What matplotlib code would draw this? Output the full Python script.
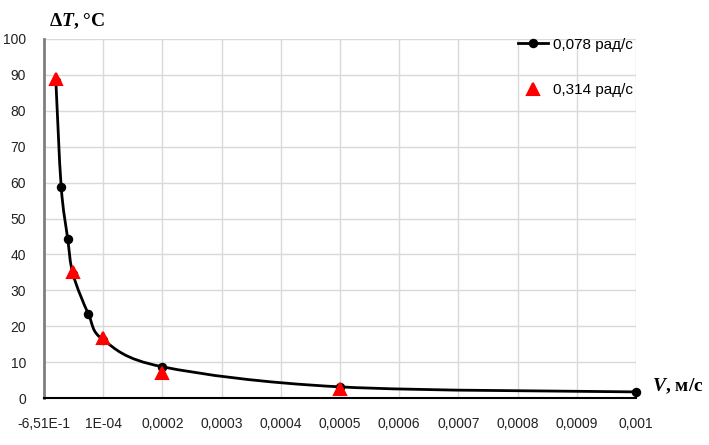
import numpy as np
import matplotlib
matplotlib.use('Agg')
import matplotlib.pyplot as plt
from matplotlib.path import Path
from matplotlib.patches import PathPatch
from matplotlib.lines import Line2D

# ---- data ----
v_black = [2.0e-5, 2.9e-5, 4.0e-5, 4.9e-5, 7.5e-5, 1.0e-4, 2.0e-4, 5.0e-4, 1.0e-3]
dt_black = [88.4, 58.9, 44.4, 34.5, 23.4, 16.2, 8.7, 3.1, 1.7]
v_red = [2.0e-5, 4.9e-5, 1.0e-4, 2.0e-4, 5.0e-4]
dt_red = [88.9, 35.0, 16.7, 7.1, 2.4]
series_labels = ["0,078 рад/с", "0,314 рад/с"]
x_ticks = [0, 0.0001, 0.0002, 0.0003, 0.0004, 0.0005, 0.0006, 0.0007, 0.0008, 0.0009, 0.001]
x_tick_labels = ["-6,51E-1", "1E-04", "0,0002", "0,0003", "0,0004", "0,0005",
                 "0,0006", "0,0007", "0,0008", "0,0009", "0,001"]
y_ticks = [0, 10, 20, 30, 40, 50, 60, 70, 80, 90, 100]
y_label = "$\\Delta T$, °C"
x_label = "$V$, м/с"

plt.rcParams['mathtext.fontset'] = 'custom'
plt.rcParams['mathtext.rm'] = 'Liberation Serif:bold'
plt.rcParams['mathtext.bf'] = 'Liberation Serif:bold'
plt.rcParams['mathtext.it'] = 'Liberation Serif:italic:bold'

W, H = 709, 445
fig = plt.figure(figsize=(W / 100, H / 100), dpi=100)
ax = fig.add_axes([44 / W, 1 - 398 / H, (636 - 44) / W, (398 - 39) / H])

ax.set_xlim(0, 0.001)
ax.set_ylim(0, 100)
ax.set_xticks(x_ticks)
ax.set_xticklabels(x_tick_labels, fontfamily='Liberation Sans', fontsize=10)
ax.set_yticks(y_ticks)
ax.set_yticklabels([str(t) for t in y_ticks], fontfamily='Liberation Sans', fontsize=10)
ax.tick_params(axis='x', length=0, pad=14, colors='#222222')
ax.tick_params(axis='y', length=0, pad=13, colors='#222222')
ax.grid(True, color='#d9d9d9', linewidth=1.0, zorder=0)
ax.set_axisbelow(True)
for s in ['top', 'right']:
    ax.spines[s].set_visible(False)
ax.spines['left'].set_color('#7f7f7f')
ax.spines['left'].set_linewidth(2.0)
ax.spines['bottom'].set_color('#000000')
ax.spines['bottom'].set_linewidth(1.5)

# smoothed (Catmull-Rom style Bezier) line through the black points
pts = np.column_stack([v_black, dt_black])
n = len(pts)
verts = [pts[0]]
codes = [Path.MOVETO]
for i in range(n - 1):
    p_prev = pts[max(i - 1, 0)]
    p_next2 = pts[min(i + 2, n - 1)]
    c1 = pts[i] + (pts[i + 1] - p_prev) / 6.0
    c2 = pts[i + 1] - (p_next2 - pts[i]) / 6.0
    verts += [c1, c2, pts[i + 1]]
    codes += [Path.CURVE4] * 3
ax.add_patch(PathPatch(Path(verts, codes), facecolor='none', edgecolor='black',
                       linewidth=2.0, zorder=3, clip_on=False))
ax.plot(v_black, dt_black, linestyle='none', marker='o', markersize=5.8,
        color='black', zorder=4, clip_on=False)
ax.plot(v_red, dt_red, linestyle='none', marker='^', markersize=8,
        color='#ff0000', markeredgewidth=1.5, zorder=5, clip_on=False)

handles = [Line2D([], [], color='black', linewidth=2.0, marker='o', markersize=5.8),
           Line2D([], [], color='#ff0000', linestyle='none', marker='^', markersize=8,
                  markeredgewidth=1.5)]
fig.legend(handles, series_labels, loc='upper left',
           bbox_to_anchor=(510 / W, 1 - 30 / H), frameon=False, borderpad=0,
           handlelength=2.0, handletextpad=0.3, labelspacing=2.05,
           prop={'family': 'Liberation Sans', 'size': 11})

fig.text(49 / W, 1 - 21 / H, y_label, ha='left', va='center',
         fontfamily='Liberation Serif', fontweight='bold', fontsize=14)
fig.text(652 / W, 1 - 386 / H, x_label, ha='left', va='center',
         fontfamily='Liberation Serif', fontweight='bold', fontsize=14)

fig.savefig('out.png', dpi=100)
